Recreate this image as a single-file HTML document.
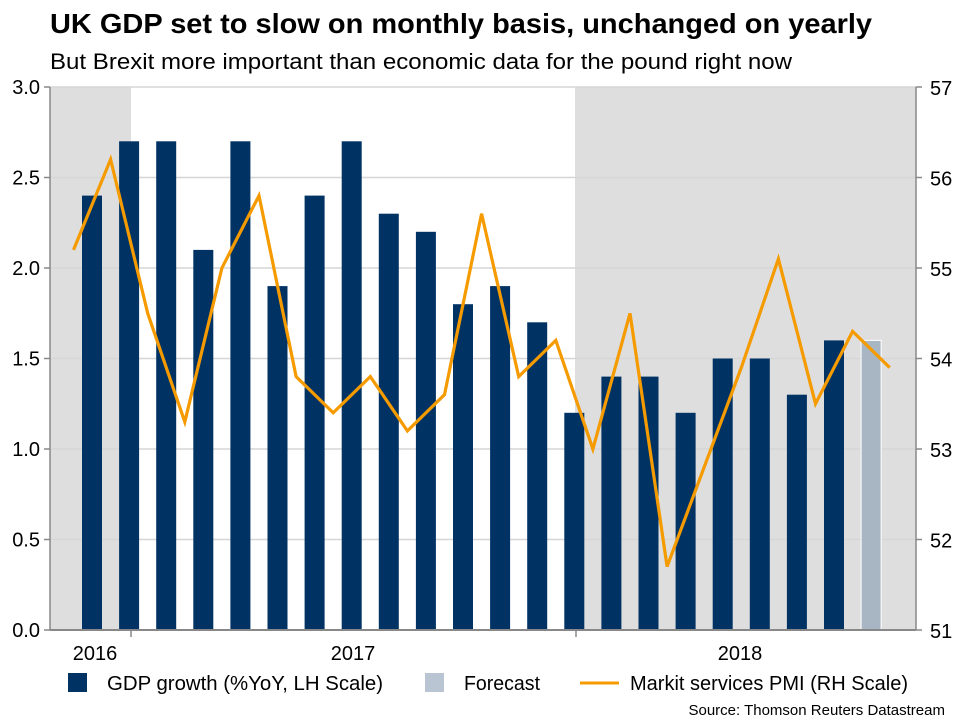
<!DOCTYPE html>
<html><head><meta charset="utf-8">
<style>
body{margin:0;background:#fff;}
svg{display:block;font-family:"Liberation Sans",Arial,sans-serif;}
</style></head>
<body>
<svg width="960" height="720" viewBox="0 0 960 720">
<text x="50" y="33" font-size="28" font-weight="bold" fill="#000" textLength="822" lengthAdjust="spacingAndGlyphs">UK GDP set to slow on monthly basis, unchanged on yearly</text>
<text x="50" y="69" font-size="22" fill="#000" textLength="742" lengthAdjust="spacingAndGlyphs">But Brexit more important than economic data for the pound right now</text>
<g id="plot"></g>
<g>
<rect x="68" y="673" width="19" height="19" fill="#003263"/>
<text x="107" y="690" font-size="20" textLength="276" lengthAdjust="spacingAndGlyphs">GDP growth (%YoY, LH Scale)</text>
<rect x="425" y="673" width="19" height="19" fill="#b9c5d2"/>
<text x="464" y="690" font-size="20" textLength="76" lengthAdjust="spacingAndGlyphs">Forecast</text>
<line x1="580" y1="683" x2="619" y2="683" stroke="#f59b00" stroke-width="3"/>
<text x="630" y="690" font-size="20" textLength="278" lengthAdjust="spacingAndGlyphs">Markit services PMI (RH Scale)</text>
</g>
<text x="945" y="715" font-size="15" text-anchor="end">Source: Thomson Reuters Datastream</text>
</svg>
<script>
const gdpValues=[2.4,2.7,2.7,2.1,2.7,1.9,2.4,2.7,2.3,2.2,1.8,1.9,1.7,1.2,1.4,1.4,1.2,1.5,1.5,1.3,1.6,1.6];
const forecastFlags=[0,0,0,0,0,0,0,0,0,0,0,0,0,0,0,0,0,0,0,0,0,1];
const pmiValues=[55.2,56.2,54.5,53.3,55.0,55.8,53.8,53.4,53.8,53.2,53.6,55.6,53.8,54.2,53.0,54.5,51.7,52.8,53.9,55.1,53.5,54.3,53.9];
const leftTicks=["0.0","0.5","1.0","1.5","2.0","2.5","3.0"];
const rightTicks=["51","52","53","54","55","56","57"];
const yearLabels=["2016","2017","2018"];

const NS="http://www.w3.org/2000/svg";
const g=document.getElementById('plot');
const X0=50,X1=916,Y0=630,Y1=87;
const slotStart=92,slotStep=37.1;
const xBar=i=>slotStart+slotStep*i;
const xPt=i=>slotStart-18.5+slotStep*i;
const yL=v=>Y0-(v/3)*(Y0-Y1);
const yR=v=>Y0-((v-51)/6)*(Y0-Y1);
function mk(t,a){const e=document.createElementNS(NS,t);for(const k in a)e.setAttribute(k,a[k]);g.appendChild(e);return e;}

let e;
e=mk('rect',{x:X0,y:Y1,width:131-X0,height:Y0-Y1,fill:'#dedede'});


e=mk('rect',{x:575,y:Y1,width:X1-575,height:Y0-Y1,fill:'#dedede'});



leftTicks.forEach((t,i)=>{
  const v=parseFloat(t),y=yL(v);
  if(i>0){e=mk('line',{x1:X0,x2:X1,y1:y,y2:y,stroke:'#d6d6d6','stroke-width':1.5});
  
  }
  e=mk('line',{x1:X0-6,x2:X0,y1:y,y2:y,stroke:'#888','stroke-width':1.5});
  
  
  e=mk('text',{x:X0-10,y:y+7,'font-size':20,'text-anchor':'end',fill:'#000'});e.textContent=t;
  
  
});
rightTicks.forEach(t=>{
  const y=yR(parseFloat(t));
  e=mk('line',{x1:X1,x2:X1+6,y1:y,y2:y,stroke:'#888','stroke-width':1.5});
  
  
  e=mk('text',{x:X1+14,y:y+8,'font-size':20,fill:'#000'});e.textContent=t;
  
  
});

gdpValues.forEach((v,i)=>{
  const f=forecastFlags[i];
  e=mk('rect',{x:xBar(i)-10,y:yL(v),width:20,height:Y0-yL(v),fill:f?'#a8b5c3':'#003263',stroke:f?'#fff':'none','stroke-width':f?1:0});
  
  
});

e=mk('line',{x1:X0,x2:X0,y1:Y1,y2:Y0,stroke:'#888','stroke-width':1.5});


e=mk('line',{x1:X1,x2:X1,y1:Y1,y2:Y0,stroke:'#888','stroke-width':1.5});


e=mk('line',{x1:X0,x2:X1,y1:Y0,y2:Y0,stroke:'#888','stroke-width':2});


[131,576].forEach(x=>{
  e=mk('line',{x1:x,x2:x,y1:Y0,y2:Y0+7,stroke:'#888','stroke-width':1.5});
  
  
});
const yearX=[95,353,740];
yearLabels.forEach((t,i)=>{
  e=mk('text',{x:yearX[i],y:660,'font-size':20,'text-anchor':'middle'});e.textContent=t;
  
  
});

const pts=pmiValues.map((v,i)=>xPt(i).toFixed(1)+','+yR(v).toFixed(1)).join(' ');
e=mk('polyline',{points:pts,fill:'none',stroke:'#f59b00','stroke-width':3.2,'stroke-linejoin':'miter'});


</script>
</body></html>
